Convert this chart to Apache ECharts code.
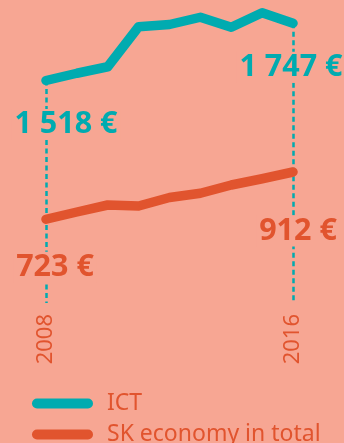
<!DOCTYPE html>
<html>
<head>
<meta charset="utf-8">
<script src="https://cdn.jsdelivr.net/npm/echarts@6/dist/echarts.min.js"></script>
<style>
  html, body { margin: 0; padding: 0; background: #F7A693; }
  #chart { width: 344px; height: 443px; }
</style>
</head>
<body>
<div id="chart"></div>
<script>
// Average monthly wage, annual values
const years = ['2008', '2009', '2010', '2011', '2012', '2013', '2014', '2015', '2016'];
const ictWage = [1518, 1547, 1573, 1733, 1742, 1771, 1731, 1789, 1747];
const skWage = [723, 752, 780, 776, 810, 827, 860, 885, 912];
const seriesNames = ['ICT', 'SK economy in total'];

const BG = '#F7A693';
const TEAL = '#00ABB0';
const ORANGE = '#E1542E';
const FONT = '"Noto Sans", sans-serif';

// both value axes share the same scale (4 € per pixel), shifted apart
const ictMax = 1800, ictMin = 628;
const skMax = 1560, skMin = 388;

const euro = v => String(v).replace(/\B(?=(\d{3})+(?!\d))/g, ' ') + ' €';

function endLabel(color, offset) {
  return {
    show: true,
    position: 'inside',
    offset: offset,
    formatter: p => euro(p.value),
    color: color,
    fontFamily: FONT,
    fontWeight: 'bold',
    fontSize: 30.5,
    lineHeight: 26,
    backgroundColor: BG,
    padding: [2, 3, 3, 3]
  };
}

function withEndLabels(values, color, firstOffset, lastOffset) {
  return values.map((v, i) => {
    if (i === 0) return { value: v, label: endLabel(color, firstOffset) };
    if (i === values.length - 1) return { value: v, label: endLabel(color, lastOffset) };
    return v;
  });
}

const last = years.length - 1;
const pillIcon = 'path://M5,0 H56 A5,5 0 0 1 56,10 H5 A5,5 0 0 1 5,0 Z';

const option = {
  backgroundColor: BG,
  animation: false,
  grid: { left: 46, right: 51, top: 10, bottom: 140 },
  xAxis: {
    type: 'category',
    data: years,
    boundaryGap: false,
    axisLine: { show: false },
    axisTick: { show: false },
    splitLine: { show: false },
    axisLabel: {
      interval: (i) => i === 0 || i === last,
      rotate: 90,
      margin: 11,
      color: ORANGE,
      fontFamily: FONT,
      fontSize: 22
    }
  },
  yAxis: [
    { type: 'value', min: ictMin, max: ictMax, show: false },
    { type: 'value', min: skMin, max: skMax, show: false }
  ],
  legend: {
    orient: 'vertical',
    left: 32,
    top: 392,
    height: 60,
    padding: 0,
    itemWidth: 61,
    itemHeight: 10,
    itemGap: 8,
    textStyle: { color: ORANGE, fontFamily: FONT, fontSize: 23, lineHeight: 22, padding: [0, 0, 0, 9] },
    data: seriesNames.map(n => ({ name: n, icon: pillIcon }))
  },
  series: [
    {
      name: seriesNames[0],
      type: 'line',
      yAxisIndex: 0,
      z: 5,
      data: withEndLabels(ictWage, TEAL, [20, 44], [-2, 44]),
      symbol: 'circle',
      symbolSize: 1,
      showSymbol: true,
      itemStyle: { color: TEAL },
      lineStyle: { color: TEAL, width: 9.5, cap: 'round', join: 'round' },
      markLine: {
        silent: true,
        z: 1,
        symbol: ['none', 'none'],
        label: { show: false },
        lineStyle: { color: TEAL, width: 2.5, type: [5, 3.5] },
        data: [
          [{ coord: [0, ictWage[0]] }, { coord: [0, ictMin] }],
          [{ coord: [last, ictWage[last]] }, { coord: [last, ictMin] }]
        ]
      }
    },
    {
      name: seriesNames[1],
      type: 'line',
      yAxisIndex: 1,
      z: 5,
      data: withEndLabels(skWage, ORANGE, [9, 48], [5, 59]),
      symbol: 'circle',
      symbolSize: 1,
      showSymbol: true,
      itemStyle: { color: ORANGE },
      lineStyle: { color: ORANGE, width: 9.5, cap: 'round', join: 'round' }
    }
  ]
};

const chart = echarts.init(document.getElementById('chart'), null, { renderer: 'canvas' });
chart.setOption(option);
</script>
</body>
</html>
